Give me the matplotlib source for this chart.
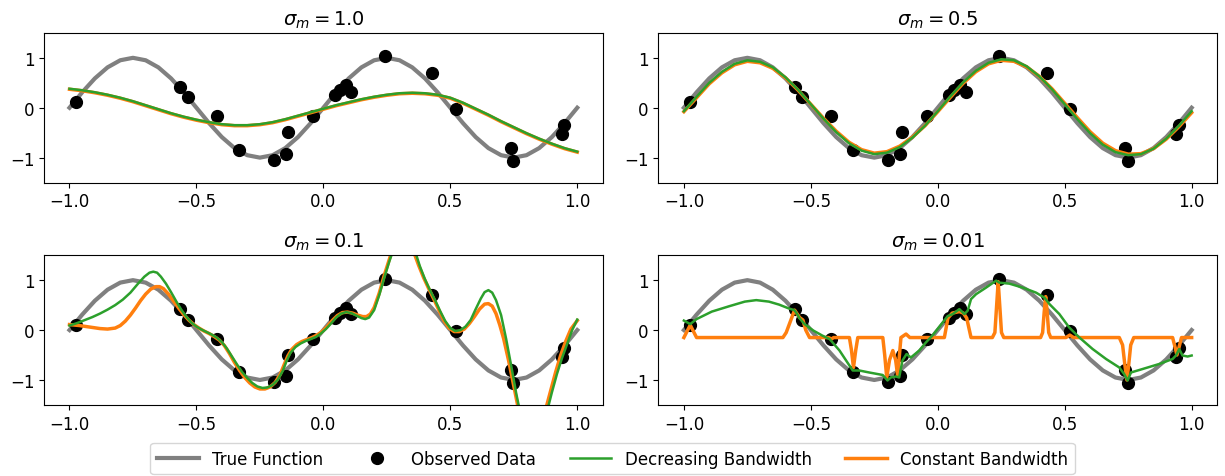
import matplotlib.pyplot as plt
import numpy as np

plt.rcParams['font.size'] = 12

# observed data (same in every panel)
obs_x = [-0.974, -0.563, -0.534, -0.419, -0.333, -0.196, -0.147, -0.139, -0.042, 0.045,
         0.064, 0.089, 0.110, 0.242, 0.429, 0.522, 0.739, 0.748, 0.939, 0.949]
obs_y = [0.11, 0.42, 0.21, -0.17, -0.85, -1.05, -0.92, -0.49, -0.17, 0.25,
         0.35, 0.45, 0.32, 1.03, 0.70, -0.02, -0.81, -1.07, -0.53, -0.35]

# true function, read every 0.05
true_x = np.linspace(-1, 1, 41)
true_y = [0.0, 0.309, 0.588, 0.809, 0.951, 1.0, 0.951, 0.809, 0.588, 0.309,
          0.0, -0.309, -0.588, -0.809, -0.951, -1.0, -0.951, -0.809, -0.588, -0.309,
          0.0, 0.309, 0.588, 0.809, 0.951, 1.0, 0.951, 0.809, 0.588, 0.309,
          0.0, -0.309, -0.588, -0.809, -0.951, -1.0, -0.951, -0.809, -0.588, -0.309,
          0.0]

# sigma_m = 1.0, read every 0.05
grid1 = np.linspace(-1, 1, 41)
dec1 = [0.38, 0.35, 0.31, 0.26, 0.20, 0.13, 0.05, -0.03, -0.11, -0.18,
        -0.24, -0.29, -0.33, -0.35, -0.35, -0.33, -0.29, -0.23, -0.16, -0.09,
        -0.02, 0.05, 0.11, 0.17, 0.22, 0.26, 0.29, 0.30, 0.29, 0.26,
        0.20, 0.10, -0.02, -0.14, -0.27, -0.39, -0.51, -0.62, -0.72, -0.81,
        -0.88]
const1 = [0.37, 0.34, 0.30, 0.25, 0.19, 0.12, 0.04, -0.04, -0.12, -0.19,
          -0.25, -0.30, -0.34, -0.36, -0.36, -0.34, -0.30, -0.24, -0.17, -0.10,
          -0.03, 0.04, 0.10, 0.16, 0.21, 0.25, 0.28, 0.29, 0.28, 0.25,
          0.19, 0.09, -0.03, -0.15, -0.28, -0.40, -0.52, -0.63, -0.73, -0.82,
          -0.89]

# sigma_m = 0.5, read every 0.05
grid2 = np.linspace(-1, 1, 41)
dec2 = [-0.07, 0.22, 0.50, 0.72, 0.88, 0.95, 0.92, 0.81, 0.61, 0.36,
        0.07, -0.22, -0.49, -0.71, -0.86, -0.93, -0.90, -0.79, -0.60, -0.36,
        -0.07, 0.23, 0.51, 0.74, 0.90, 0.97, 0.95, 0.83, 0.63, 0.37,
        0.07, -0.23, -0.51, -0.74, -0.89, -0.95, -0.93, -0.82, -0.62, -0.36,
        -0.07]
const2 = [-0.08, 0.20, 0.48, 0.70, 0.86, 0.93, 0.90, 0.79, 0.60, 0.35,
          0.07, -0.21, -0.47, -0.69, -0.84, -0.91, -0.88, -0.77, -0.59, -0.36,
          -0.08, 0.21, 0.49, 0.72, 0.88, 0.95, 0.93, 0.82, 0.63, 0.38,
          0.09, -0.20, -0.48, -0.71, -0.86, -0.93, -0.92, -0.82, -0.63, -0.38,
          -0.10]

# sigma_m = 0.1
dec3_x = [-1.00, -0.97, -0.94, -0.91, -0.88, -0.85, -0.82, -0.79, -0.76, -0.73,
          -0.705, -0.685, -0.67, -0.655, -0.64, -0.62, -0.60, -0.58, -0.56, -0.54,
          -0.52, -0.50, -0.48, -0.46, -0.44, -0.42, -0.40, -0.38, -0.36, -0.34,
          -0.32, -0.30, -0.28, -0.26, -0.24, -0.22, -0.20, -0.18, -0.16, -0.145,
          -0.13, -0.11, -0.09, -0.07, -0.05, -0.03, -0.01, 0.01, 0.03, 0.05,
          0.07, 0.09, 0.11, 0.13, 0.15, 0.165, 0.18, 0.20, 0.22, 0.24,
          0.26, 0.275, 0.32, 0.36, 0.38, 0.40, 0.42, 0.44, 0.46, 0.48,
          0.50, 0.52, 0.54, 0.56, 0.58, 0.60, 0.62, 0.635, 0.65, 0.665,
          0.68, 0.70, 0.72, 0.74, 0.76, 0.775, 0.83, 0.88, 0.90, 0.92,
          0.94, 0.96, 0.98, 1.00]
dec3_y = [0.09, 0.14, 0.20, 0.26, 0.33, 0.41, 0.50, 0.61, 0.75, 0.93,
          1.07, 1.15, 1.17, 1.15, 1.07, 0.93, 0.76, 0.58, 0.41, 0.27,
          0.15, 0.07, 0.01, -0.04, -0.09, -0.15, -0.24, -0.37, -0.53, -0.69,
          -0.84, -0.96, -1.06, -1.13, -1.16, -1.15, -1.10, -1.00, -0.82, -0.62,
          -0.46, -0.34, -0.27, -0.22, -0.18, -0.14, -0.07, 0.02, 0.13, 0.25,
          0.33, 0.36, 0.34, 0.29, 0.24, 0.22, 0.25, 0.40, 0.70, 1.05,
          1.38, 1.60, 2.0, 1.60, 1.28, 1.02, 0.80, 0.60, 0.38, 0.18,
          0.04, -0.02, 0.00, 0.07, 0.20, 0.42, 0.63, 0.76, 0.80, 0.75,
          0.60, 0.30, -0.18, -0.72, -1.28, -1.65, -2.4, -1.65, -1.25, -0.88,
          -0.56, -0.28, 0.00, 0.21]
const3_x = [-1.00, -0.96, -0.92, -0.88, -0.85, -0.82, -0.80, -0.78, -0.76, -0.74,
            -0.72, -0.70, -0.68, -0.66, -0.645, -0.63, -0.61, -0.59, -0.57, -0.55,
            -0.53, -0.51, -0.49, -0.47, -0.45, -0.43, -0.41, -0.39, -0.37, -0.35,
            -0.33, -0.31, -0.29, -0.27, -0.25, -0.23, -0.21, -0.19, -0.17, -0.155,
            -0.14, -0.125, -0.105, -0.085, -0.065, -0.045, -0.025, -0.005, 0.015, 0.035,
            0.055, 0.075, 0.095, 0.115, 0.135, 0.155, 0.17, 0.185, 0.20, 0.22,
            0.24, 0.26, 0.27, 0.315, 0.355, 0.375, 0.395, 0.415, 0.435, 0.455,
            0.475, 0.495, 0.515, 0.535, 0.555, 0.575, 0.595, 0.615, 0.635, 0.65,
            0.665, 0.68, 0.695, 0.71, 0.73, 0.75, 0.765, 0.82, 0.875, 0.895,
            0.915, 0.935, 0.955, 0.975, 1.00]
const3_y = [0.11, 0.09, 0.06, 0.03, 0.02, 0.04, 0.09, 0.18, 0.30, 0.44,
            0.59, 0.72, 0.82, 0.87, 0.87, 0.83, 0.72, 0.58, 0.44, 0.31,
            0.20, 0.11, 0.04, -0.02, -0.07, -0.13, -0.20, -0.31, -0.47, -0.65,
            -0.81, -0.95, -1.06, -1.14, -1.18, -1.18, -1.14, -1.05, -0.89, -0.70,
            -0.52, -0.39, -0.29, -0.23, -0.19, -0.15, -0.10, -0.03, 0.07, 0.19,
            0.29, 0.35, 0.36, 0.34, 0.30, 0.27, 0.27, 0.32, 0.45, 0.74,
            1.10, 1.42, 1.58, 2.0, 1.58, 1.30, 1.05, 0.83, 0.62, 0.40,
            0.19, 0.04, -0.03, -0.03, 0.02, 0.13, 0.27, 0.42, 0.52, 0.53,
            0.48, 0.33, 0.10, -0.17, -0.62, -1.12, -1.50, -2.4, -1.60, -1.22,
            -0.84, -0.50, -0.22, 0.02, 0.19]

# sigma_m = 0.01
dec4_x = [-1.00, -0.975, -0.95, -0.89, -0.82, -0.76, -0.715, -0.665, -0.625, -0.585,
          -0.565, -0.555, -0.545, -0.525, -0.49, -0.455, -0.426, -0.387, -0.361, -0.335,
          -0.309, -0.27, -0.217, -0.198, -0.185, -0.165, -0.152, -0.139, -0.123, -0.106,
          -0.073, -0.047, -0.021, 0.019, 0.039, 0.059, 0.085, 0.105, 0.118, 0.131,
          0.151, 0.19, 0.23, 0.243, 0.282, 0.335, 0.387, 0.42, 0.44, 0.479,
          0.518, 0.558, 0.61, 0.663, 0.715, 0.734, 0.748, 0.761, 0.807, 0.872,
          0.925, 0.938, 0.951, 0.964, 0.984, 1.0]
dec4_y = [0.19, 0.12, 0.22, 0.37, 0.48, 0.57, 0.60, 0.57, 0.51, 0.43,
          0.40, 0.33, 0.24, 0.12, -0.01, -0.11, -0.18, -0.41, -0.61, -0.81,
          -0.81, -0.85, -0.90, -1.01, -0.95, -0.93, -0.95, -0.61, -0.48, -0.55,
          -0.41, -0.25, -0.11, 0.15, 0.28, 0.32, 0.42, 0.32, 0.39, 0.62,
          0.72, 0.85, 0.99, 0.95, 0.93, 0.85, 0.75, 0.65, 0.52, 0.32,
          0.05, -0.15, -0.38, -0.58, -0.75, -0.88, -1.01, -0.85, -0.78, -0.68,
          -0.58, -0.51, -0.38, -0.51, -0.53, -0.51]
const4_x = [-1.00, -0.99, -0.975, -0.96, -0.95, -0.61, -0.597, -0.564, -0.544, -0.531,
            -0.52, -0.505, -0.43, -0.419, -0.41, -0.348, -0.34, -0.332, -0.323, -0.315,
            -0.2165, -0.209, -0.201, -0.19, -0.177, -0.166, -0.158, -0.151, -0.145, -0.125,
            -0.11, 0.026, 0.040, 0.057, 0.085, 0.101, 0.114, 0.131, 0.215, 0.225,
            0.232, 0.238, 0.244, 0.251, 0.26, 0.405, 0.413, 0.419, 0.425, 0.431,
            0.437, 0.445, 0.505, 0.52, 0.535, 0.715, 0.728, 0.737, 0.745, 0.752,
            0.76, 0.772, 0.925, 0.935, 0.942, 0.95, 0.96, 1.0]
const4_y = [-0.15, -0.05, 0.10, -0.05, -0.15, -0.15, -0.05, 0.40, 0.25, 0.20,
            0.0, -0.15, -0.15, -0.18, -0.15, -0.15, -0.4, -0.75, -0.4, -0.15,
            -0.15, -0.5, -0.95, -0.6, -0.41, -0.6, -0.91, -0.5, -0.15, -0.08,
            -0.15, -0.15, 0.24, 0.34, 0.37, 0.34, 0.24, -0.15, -0.15, -0.05,
            0.5, 0.97, 0.5, -0.05, -0.15, -0.15, -0.05, 0.35, 0.67, 0.35,
            -0.05, -0.15, -0.15, -0.1, -0.15, -0.15, -0.3, -0.7, -1.0, -0.7,
            -0.3, -0.15, -0.15, -0.35, -0.5, -0.35, -0.15, -0.15]

titles = [r'$\sigma_m = 1.0$', r'$\sigma_m = 0.5$', r'$\sigma_m = 0.1$', r'$\sigma_m = 0.01$']
dec_fits = [(grid1, dec1), (grid2, dec2), (dec3_x, dec3_y), (dec4_x, dec4_y)]
const_fits = [(grid1, const1), (grid2, const2), (const3_x, const3_y), (const4_x, const4_y)]

fig, axes = plt.subplots(2, 2, figsize=(12.25, 4.77), dpi=100)

for ax, title, dec, const in zip(axes.flat, titles, dec_fits, const_fits):
    h_true, = ax.plot(true_x, true_y, color='gray', lw=3, label='True Function')
    h_obs, = ax.plot(obs_x, obs_y, 'o', color='black', ms=8.5, label='Observed Data')
    h_const, = ax.plot(const[0], const[1], color='tab:orange', lw=2.5,
                       label='Constant Bandwidth')
    h_dec, = ax.plot(dec[0], dec[1], color='tab:green', lw=1.8,
                     label='Decreasing Bandwidth')
    ax.set_ylim(-1.5, 1.5)
    ax.set_xticks([-1.0, -0.5, 0.0, 0.5, 1.0])
    ax.set_title(title, fontsize=14)

fig.subplots_adjust(left=0.036, right=0.9935, top=0.929, bottom=0.149,
                    wspace=0.1, hspace=0.485)

fig.legend([h_true, h_obs, h_dec, h_const],
           ['True Function', 'Observed Data', 'Decreasing Bandwidth', 'Constant Bandwidth'],
           loc='lower center', ncol=4, fontsize=12, bbox_to_anchor=(0.5, 0.0),
           borderaxespad=0.1, handlelength=2.5)

plt.savefig('out.png')
